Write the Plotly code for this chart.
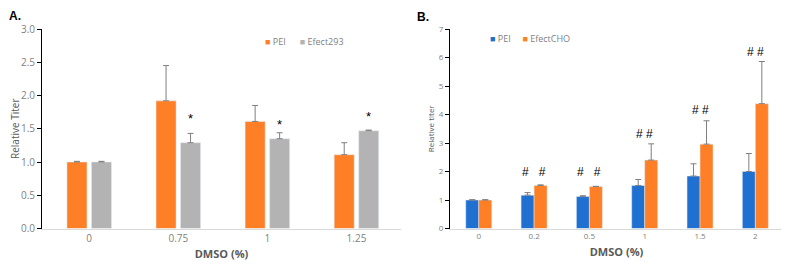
import plotly.graph_objects as go

# Panel A data
a_cats = ["0", "0.75", "1", "1.25"]
a_pei = [1.0, 1.92, 1.61, 1.11]
a_pei_err = [0.01, 0.53, 0.24, 0.18]
a_efect = [1.0, 1.29, 1.35, 1.47]
a_efect_err = [0.01, 0.14, 0.09, 0.01]
a_star_y = [None, 1.65, 1.57, 1.68]

# Panel B data
b_cats = ["0", "0.2", "0.5", "1", "1.5", "2"]
b_pei = [1.0, 1.17, 1.12, 1.51, 1.84, 2.0]
b_pei_err = [0.01, 0.09, 0.03, 0.21, 0.43, 0.63]
b_cho = [1.0, 1.51, 1.47, 2.4, 2.96, 4.38]
b_cho_err = [0.01, 0.02, 0.01, 0.57, 0.82, 1.48]
b_hash_y = [None, 1.99, 1.99, 3.32, 4.17, 6.2]
b_hash_txt = [None, "#\u00a0\u00a0\u00a0#", "#\u00a0\u00a0\u00a0#", "#\u00a0#", "#\u00a0#", "#\u00a0#"]

ORANGE = "#FF7F27"
GRAY = "#B3B3B3"
BLUE = "#1F70D0"
ERR = "#7F7F7F"
OFF = 8  # page body margin
W, H = 789 - OFF, 266 - OFF
FONT = "Open Sans"

def px_x(p):
    return (p - OFF) / W

def px_y(p):
    return 1 - (p - OFF) / H

fig = go.Figure()

eb = lambda arr: dict(type="data", array=arr, arrayminus=[0] * len(arr), symmetric=False,
                      color=ERR, thickness=1, width=3)

fig.add_trace(go.Bar(x=a_cats, y=a_pei, error_y=eb(a_pei_err), marker_color=ORANGE,
                     name="PEI", showlegend=False, xaxis="x", yaxis="y",
                     width=0.225, offset=-0.25))
fig.add_trace(go.Bar(x=a_cats, y=a_efect, error_y=eb(a_efect_err), marker_color=GRAY,
                     name="Efect293", showlegend=False, xaxis="x", yaxis="y",
                     width=0.225, offset=0.025))
fig.add_trace(go.Bar(x=b_cats, y=b_pei, error_y=eb(b_pei_err), marker_color=BLUE,
                     name="PEI", showlegend=False, xaxis="x2", yaxis="y2",
                     width=0.235, offset=-0.235))
fig.add_trace(go.Bar(x=b_cats, y=b_cho, error_y=eb(b_cho_err), marker_color=ORANGE,
                     name="EfectCHO", showlegend=False, xaxis="x2", yaxis="y2",
                     width=0.235, offset=0.0))

annotations = []
# significance marks A (above the gray bars)
for i, yv in enumerate(a_star_y):
    if yv is None:
        continue
    annotations.append(dict(x=i + 0.1375, y=yv, xref="x", yref="y", text="*", showarrow=False,
                            font=dict(size=13, color="#000", family="Liberation Sans")))
for i, (yv, t) in enumerate(zip(b_hash_y, b_hash_txt)):
    if yv is None:
        continue
    annotations.append(dict(x=i, y=yv, xref="x2", yref="y2", text=t, showarrow=False,
                            font=dict(size=12, color="#000", family="Liberation Sans")))

# panel letters
annotations.append(dict(x=px_x(8), y=1, xref="paper", yref="paper", text="<b>A.</b>",
                        showarrow=False, xanchor="left", yanchor="top", borderpad=0,
                        font=dict(size=12, color="#000", family="Liberation Sans")))
annotations.append(dict(x=px_x(416), y=1, xref="paper", yref="paper", text="<b>B.</b>",
                        showarrow=False, xanchor="left", yanchor="top", borderpad=0,
                        yshift=-1,
                        font=dict(size=12, color="#000", family="Liberation Sans")))
# legends
annotations.append(dict(x=px_x(263), y=px_y(41), xref="paper", yref="paper",
                        text=f"<span style='color:{ORANGE}'>■</span> PEI\u00a0\u00a0\u00a0\u00a0\u00a0\u00a0<span style='color:{GRAY}'>■</span> Efect293",
                        showarrow=False, xanchor="left", yanchor="middle",
                        font=dict(size=9, color="#7F7F7F", family=FONT)))
annotations.append(dict(x=px_x(488), y=px_y(39), xref="paper", yref="paper",
                        text=f"<span style='color:{BLUE}'>■</span> PEI\u00a0\u00a0\u00a0\u00a0\u00a0<span style='color:{ORANGE}'>■</span> EfectCHO",
                        showarrow=False, xanchor="left", yanchor="middle",
                        font=dict(size=9, color="#7F7F7F", family=FONT)))

ydom = [px_y(228.5), px_y(29)]
fig.update_layout(
    width=W, height=H, margin=dict(l=0, r=0, t=0, b=0),
    plot_bgcolor="white", paper_bgcolor="white",
    barmode="group",
    font=dict(family=FONT, color="#7F7F7F"),
    annotations=annotations,
    xaxis=dict(domain=[px_x(42), px_x(401)], type="category", range=[-0.53, 3.5],
               showline=True, linecolor="#D9D9D9", linewidth=1, ticks="",
               tickfont=dict(size=10, color="#7F7F7F"), automargin=False,
               title=dict(text="<b>DMSO (%)</b>", font=dict(size=11, color="#595959"), standoff=6),
               anchor="y"),
    yaxis=dict(domain=ydom, range=[0, 3], dtick=0.5, tickformat=".1f",
               showline=True, linecolor="#000", linewidth=1, ticks="outside", ticklen=4,
               tickcolor="#000", showgrid=False, zeroline=False, automargin=False,
               tickfont=dict(size=10, color="#7F7F7F"),
               title=dict(text="Relative Titer", font=dict(size=10, color="#595959"), standoff=5),
               anchor="x"),
    xaxis2=dict(domain=[px_x(450), px_x(783)], type="category", range=[-0.52, 5.5],
                showline=True, linecolor="#D9D9D9", linewidth=1, ticks="",
                tickfont=dict(size=8, color="#7F7F7F"), automargin=False,
                title=dict(text="<b>DMSO (%)</b>", font=dict(size=11, color="#595959"), standoff=8),
                anchor="y2"),
    yaxis2=dict(domain=ydom, range=[0, 7], dtick=1,
                showline=True, linecolor="#000", linewidth=1, ticks="outside", ticklen=4,
                tickcolor="#000", showgrid=False, zeroline=False, automargin=False,
                tickfont=dict(size=8, color="#7F7F7F"),
                title=dict(text="Relative titer", font=dict(size=8, color="#595959"), standoff=3),
                anchor="x2"),
)

fig.write_html("out.html")
